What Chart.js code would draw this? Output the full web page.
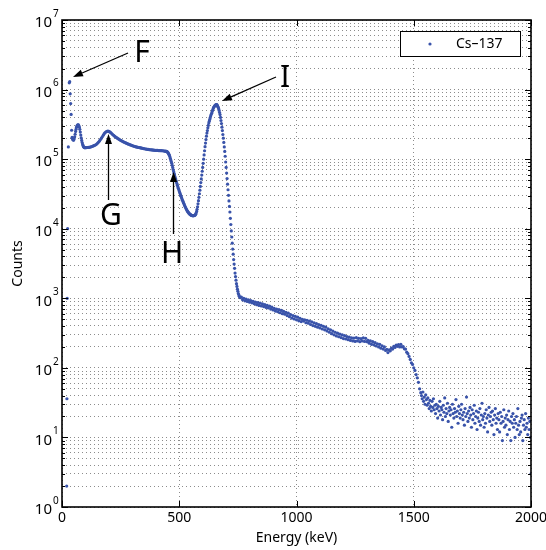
<!DOCTYPE html>
<html>
<head>
<meta charset="utf-8">
<script src="https://cdn.jsdelivr.net/npm/chart.js@4.4.1/dist/chart.umd.min.js"></script>
<style>
  html, body { margin: 0; padding: 0; background: #fff; }
</style>
</head>
<body>
<canvas id="spectrum" width="546" height="550"></canvas>
<script>
// single channels: threshold, Ba x-ray peak (F), last channel
const pointE = [20, 21, 22, 24, 27, 31, 33, 35, 37, 39, 41, 43, 2000];
const pointCounts = [2, 36, 1000, 10000, 150000, 1250000, 1300000, 870000, 630000, 440000, 260000, 205000, 3];

// 44..100 keV, 2 keV channels (Pb x-ray bump)
const xrayStart = 44, xrayStep = 2;
const xrayCounts = [200000, 192000, 188000, 188000, 196000, 210000, 228000, 250000, 270000, 288000,
  300000, 308000, 312000, 310000, 302000, 288000, 268000, 245000, 222000, 202000,
  186000, 173000, 163000, 156000, 151000, 148000, 146500, 146000, 146000];

// 104..440 keV, 4 keV channels (backscatter peak G, Compton plateau)
const plateauStart = 104, plateauStep = 4;
const plateauCounts = [146500, 147000, 147500, 148000, 149000, 150500, 152000, 154000, 156000, 158500,
  161000, 165000, 170000, 176000, 183000, 191000, 200000, 210000, 221000, 232000,
  241000, 247000, 251000, 252000, 250000, 246000, 240000, 233000, 226000, 220000,
  214000, 209000, 204000, 200000, 196000, 192000, 188000, 185000, 182000, 179000,
  176000, 173500, 171000, 168500, 166000, 164000, 162000, 160000, 158000, 156000,
  154500, 153000, 151500, 150000, 149000, 148000, 147000, 146000, 145000, 144000,
  143000, 142000, 141000, 140000, 139000, 138500, 138000, 137000, 136500, 136000,
  135500, 135000, 134500, 134000, 134000, 133500, 133500, 133000, 133000, 132500,
  132500, 132000, 131500, 131000, 130000];

// 442..760 keV, 2 keV channels (Compton edge H, photopeak I)
const peakStart = 442, peakStep = 2;
const peakCounts = [129500, 129000, 129000, 128000, 126500, 124000, 121000, 117500, 113000, 108000,
  102500, 97500, 92500, 87000, 81500, 76000, 71000, 66500, 62500, 59000,
  55500, 52500, 49500, 47000, 44500, 42300, 40200, 38300, 36500, 34800,
  33200, 31700, 30300, 29000, 27800, 26700, 25600, 24600, 23700, 22800,
  22000, 21200, 20500, 19800, 19200, 18600, 18100, 17700, 17300, 16900,
  16600, 16300, 16100, 15900, 15700, 15600, 15500, 15400, 15400, 15400,
  15400, 15500, 15600, 15800, 16200, 16800, 17700, 19000, 20700, 22800,
  25300, 28300, 31800, 35800, 40500, 46000, 52000, 59000, 67000, 76000,
  87000, 100000, 115000, 132000, 151000, 170000, 191000, 214000, 237000, 257000,
  282000, 305000, 331000, 351000, 372000, 394000, 417000, 437000, 457000, 479000,
  501000, 525000, 546000, 562000, 575000, 589000, 598000, 605000, 608000, 607000,
  596000, 575000, 556000, 531000, 501000, 468000, 437000, 398000, 359000, 324000,
  288000, 257000, 226000, 200000, 174000, 150000, 129000, 110000, 91000, 76000,
  63000, 52500, 43600, 36300, 30200, 25100, 20900, 17400, 14100, 11500,
  9300, 7600, 6200, 5100, 4300, 3600, 3100, 2700, 2300, 2050,
  1820, 1620, 1480, 1350, 1260, 1170, 1120, 1070, 1050, 1020];

// 765..1530 keV, 5 keV steps (Compton continuum, sum edge)
const contStart = 765, contStep = 5;
const contCounts = [1040, 950, 1000, 920, 975, 900, 950, 880, 930, 860,
  905, 835, 885, 810, 870, 790, 850, 775, 830, 760,
  810, 740, 790, 725, 770, 700, 745, 680, 715, 655,
  700, 640, 685, 620, 670, 600, 650, 590, 630, 565,
  610, 545, 585, 520, 565, 505, 550, 490, 535, 475,
  515, 462, 500, 470, 490, 445, 482, 438, 470, 420,
  458, 405, 442, 395, 432, 385, 418, 375, 408, 362,
  395, 352, 385, 340, 365, 325, 352, 310, 338, 298,
  325, 288, 315, 280, 305, 272, 298, 264, 290, 260,
  282, 254, 276, 248, 270, 244, 268, 240, 272, 244,
  266, 238, 264, 244, 270, 240, 266, 238, 248, 226,
  244, 218, 238, 214, 230, 206, 222, 200, 218, 192,
  208, 186, 200, 178, 184, 166, 182, 176, 192, 186,
  204, 196, 212, 204, 216, 200, 218, 200, 202, 188,
  186, 168, 160, 146, 132, 118, 112, 100, 92, 80,
  72, 62, 50, 44];

// 1533..1998 keV, 3 keV steps (background tail)
const tailStart = 1533, tailStep = 3;
const tailCounts = [40, 36, 45, 33, 38, 30, 41, 35, 29, 37,
  31, 26, 34, 28, 24, 33, 27, 36, 25, 29,
  22, 30, 26, 19, 28, 24, 33, 21, 27, 25,
  18, 29, 23, 37, 20, 26, 22, 31, 17, 24,
  27, 21, 25, 14, 30, 22, 19, 26, 23, 35,
  20, 24, 16, 28, 22, 19, 25, 30, 21, 18,
  23, 15, 26, 20, 38, 22, 17, 24, 19, 27,
  21, 14, 25, 18, 22, 29, 16, 20, 24, 13,
  19, 23, 17, 26, 15, 21, 31, 18, 20, 14,
  22, 16, 25, 19, 12, 21, 27, 17, 20, 23,
  15, 24, 18, 11, 21, 26, 16, 19, 13, 22,
  18, 12, 23, 16, 20, 9, 17, 25, 14, 19,
  15, 21, 11, 18, 24, 13, 17, 9, 20, 16,
  22, 14, 18, 10, 16, 20, 13, 26, 15, 11,
  17, 12, 19, 21, 9, 15, 18, 13, 22, 14,
  16, 11, 19, 13, 17, 10];

const xTickStep = 500;
const decades = [0, 1, 2, 3, 4, 5, 6, 7];

const blue = '#3953aa';
const fontFamily = '"Noto Sans", "Open Sans", sans-serif';

// build the point table
const points = pointE.map((e, i) => ({x: e, y: pointCounts[i]}));
function addSeg(start, step, counts) {
  counts.forEach((c, i) => points.push({x: start + i * step, y: c}));
}
addSeg(xrayStart, xrayStep, xrayCounts);
addSeg(plateauStart, plateauStep, plateauCounts);
addSeg(peakStart, peakStep, peakCounts);
addSeg(contStart, contStep, contCounts);
addSeg(tailStart, tailStep, tailCounts);
points.sort((a, b) => a.x - b.x);

// log ticks 1,2,..9,10,20,..1e7
const yTicks = [];
decades.forEach(d => {
  if (d === decades[decades.length - 1]) { yTicks.push(Math.pow(10, d)); return; }
  for (let m = 1; m <= 9; m++) yTicks.push(m * Math.pow(10, d));
});
function decadeOf(v) {
  const e = Math.round(Math.log10(v));
  return Math.abs(v - Math.pow(10, e)) < 1e-9 * v ? e : null;
}

function arrow(ctx, x1, y1, x2, y2) {
  const ang = Math.atan2(y2 - y1, x2 - x1);
  const len = 10, hw = 3.5;
  const bx = x2 - len * Math.cos(ang), by = y2 - len * Math.sin(ang);
  ctx.beginPath();
  ctx.moveTo(x1, y1);
  ctx.lineTo(bx, by);
  ctx.stroke();
  ctx.beginPath();
  ctx.moveTo(x2, y2);
  ctx.lineTo(bx + hw * Math.sin(ang), by - hw * Math.cos(ang));
  ctx.lineTo(bx - hw * Math.sin(ang), by + hw * Math.cos(ang));
  ctx.closePath();
  ctx.fill();
}

const frame = {
  id: 'frame',
  afterDraw(chart) {
    const {ctx, chartArea: a, scales: {x, y}} = chart;
    ctx.save();
    ctx.strokeStyle = '#000';
    ctx.fillStyle = '#000';
    // inward ticks
    ctx.lineWidth = 1;
    ctx.beginPath();
    y.ticks.forEach(t => {
      const py = Math.round(y.getPixelForValue(t.value)) + 0.5;
      const len = decadeOf(t.value) !== null ? 6 : 3;
      ctx.moveTo(a.left, py); ctx.lineTo(a.left + len, py);
      ctx.moveTo(a.right, py); ctx.lineTo(a.right - len, py);
    });
    x.ticks.forEach(t => {
      const px = Math.round(x.getPixelForValue(t.value)) + 0.5;
      ctx.moveTo(px, a.bottom); ctx.lineTo(px, a.bottom - 6);
      ctx.moveTo(px, a.top); ctx.lineTo(px, a.top + 6);
    });
    ctx.stroke();
    // box
    ctx.lineWidth = 1.6;
    ctx.strokeRect(a.left, a.top, a.right - a.left, a.bottom - a.top);

    // exponents of the y tick labels
    ctx.font = '10px ' + fontFamily;
    ctx.textAlign = 'left';
    ctx.textBaseline = 'middle';
    y.ticks.forEach(t => {
      const e = decadeOf(t.value);
      if (e === null) return;
      ctx.fillText(String(e), a.left - 9, y.getPixelForValue(t.value) - 6);
    });

    // legend
    ctx.lineWidth = 1;
    ctx.fillStyle = '#fff';
    ctx.fillRect(400.5, 31.5, 120, 25);
    ctx.strokeRect(400.5, 31.5, 120, 25);
    ctx.fillStyle = blue;
    ctx.beginPath();
    ctx.arc(430, 44, 1.6, 0, Math.PI * 2);
    ctx.fill();
    ctx.fillStyle = '#000';
    ctx.font = '14px ' + fontFamily;
    ctx.textAlign = 'left';
    ctx.textBaseline = 'middle';
    ctx.fillText(chart.data.datasets[0].label, 456, 44);

    // annotations
    ctx.font = '30px ' + fontFamily;
    ctx.textAlign = 'center';
    ctx.textBaseline = 'alphabetic';
    ctx.fillText('F', 142, 62);
    ctx.fillText('G', 111, 225);
    ctx.fillText('H', 172, 263);
    ctx.fillText('I', 285, 87);
    ctx.lineWidth = 1.3;
    arrow(ctx, 128, 53, 73, 77);
    arrow(ctx, 108.5, 200, 108.5, 134);
    arrow(ctx, 173.5, 234, 173.5, 172);
    arrow(ctx, 276, 77, 222, 101);
    ctx.restore();
  }
};

new Chart(document.getElementById('spectrum'), {
  type: 'scatter',
  data: {
    datasets: [{
      label: 'Cs–137',
      data: points,
      showLine: false,
      pointRadius: 1.6,
      pointHoverRadius: 1.6,
      pointBorderWidth: 0,
      pointBackgroundColor: blue
    }]
  },
  options: {
    responsive: false,
    animation: false,
    events: [],
    layout: {padding: {top: 20, right: 15, left: 0, bottom: 0}},
    plugins: {legend: {display: false}, tooltip: {enabled: false}},
    scales: {
      x: {
        type: 'linear',
        min: 0,
        max: 2000,
        ticks: {stepSize: xTickStep, color: '#000', font: {family: fontFamily, size: 14}, padding: 3, maxRotation: 0,
          callback: v => String(v)},
        grid: {color: 'rgba(0,0,0,0.45)', drawTicks: false},
        border: {display: false, dash: [1, 3]},
        title: {display: true, text: 'Energy (keV)', color: '#000', font: {family: fontFamily, size: 14}, padding: {top: 0, bottom: 4}},
        afterFit: s => { s.height = 43; s.paddingRight = 15; s.paddingLeft = 0; }
      },
      y: {
        type: 'logarithmic',
        min: 1,
        max: 1e7,
        afterBuildTicks: s => { s.ticks = yTicks.map(v => ({value: v, major: decadeOf(v) !== null})); },
        ticks: {
          autoSkip: false,
          color: '#000',
          font: {family: fontFamily, size: 15},
          padding: 10,
          labelOffset: 3,
          callback: v => decadeOf(v) === null ? '' : '10'
        },
        grid: {color: 'rgba(0,0,0,0.45)', drawTicks: false},
        border: {display: false, dash: [1, 3]},
        title: {display: true, text: 'Counts', color: '#000', font: {family: fontFamily, size: 14}, padding: {top: 10, bottom: 0}},
        afterFit: s => { s.width = 62; }
      }
    }
  },
  plugins: [frame]
});
</script>
</body>
</html>
